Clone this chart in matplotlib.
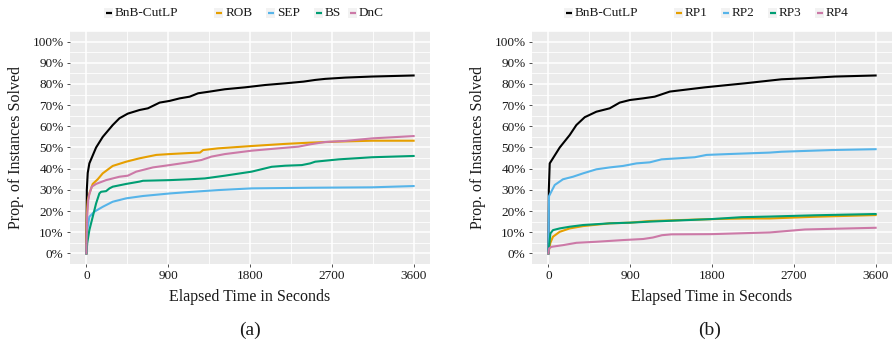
import matplotlib
matplotlib.use("Agg")
import matplotlib.pyplot as plt
from matplotlib.lines import Line2D
from matplotlib.patches import Rectangle
from matplotlib.ticker import FixedLocator, MultipleLocator

plt.rcParams['font.family'] = ['Liberation Serif', 'DejaVu Serif']

# ---- data: elapsed seconds vs. percentage of instances solved ----
# panel (a)
t_bnb_a = [0, 5, 15, 33, 107, 180, 290, 364, 456, 585, 677, 806, 916, 1027, 1137,
           1229, 1358, 1524, 1745, 1966, 2186, 2388, 2517, 2627, 2848, 3142, 3600]
p_bnb_a = [0, 30, 38, 42.5, 50, 55, 60.6, 63.8, 66, 67.7, 68.5, 71.2, 72, 73.2, 74,
           75.6, 76.4, 77.5, 78.4, 79.5, 80.3, 81.1, 81.9, 82.4, 83, 83.5, 84.0]

t_rob = [0, 5, 15, 33, 70, 125, 180, 290, 438, 585, 769, 916, 1137, 1250, 1284,
         1450, 1818, 2186, 2462, 2775, 3142, 3600]
p_rob = [0, 18, 25, 28.3, 32.8, 35, 37.8, 41.3, 43.3, 44.9, 46.5, 46.9, 47.4, 47.6, 48.8,
         49.6, 50.7, 51.7, 52.3, 52.8, 53.2, 53.2]

t_sep = [0, 10, 33, 88, 180, 290, 438, 622, 916, 1137, 1450, 1818, 2462, 3142, 3600]
p_sep = [0, 11, 17.3, 19.7, 22, 24.4, 26, 27.1, 28.3, 29, 29.9, 30.7, 31, 31.2, 31.8]

t_bs = [0, 10, 33, 70, 107, 143, 162, 217, 254, 290, 438, 585, 622, 916, 1137, 1303,
        1524, 1818, 2039, 2186, 2370, 2462, 2517, 2775, 3142, 3600]
p_bs = [0, 5, 11, 17.3, 23.6, 28.3, 29.1, 29.4, 30.7, 31.5, 32.8, 33.9, 34.3, 34.6, 35, 35.4,
        36.7, 38.6, 40.9, 41.4, 41.7, 42.5, 43.3, 44.4, 45.4, 46]

t_dnc = [0, 8, 20, 33, 60, 107, 217, 364, 456, 548, 732, 916, 1137, 1266, 1376, 1524,
         1818, 2112, 2333, 2462, 2627, 2848, 3142, 3600]
p_dnc = [0, 17, 25, 28, 31.5, 32.8, 34.6, 36.2, 36.7, 38.6, 40.6, 41.7, 43.1, 44.1, 45.7, 46.9,
         48.5, 49.6, 50.4, 51.5, 52.6, 53.1, 54.3, 55.4]

# panel (b)
t_bnb_b = [0, 5, 15, 125, 235, 308, 400, 528, 675, 785, 895, 1042, 1170, 1336, 1721,
           2161, 2437, 2565, 2822, 3152, 3600]
p_bnb_b = [0, 30, 42.5, 50, 55.9, 60.6, 64.3, 66.9, 68.5, 71.2, 72.4, 73.2, 74, 76.4, 78.4,
           80.3, 81.6, 82.2, 82.7, 83.5, 84.0]

t_rp1 = [0, 22, 51, 125, 235, 382, 675, 895, 1116, 1794, 2161, 2437, 2932, 3600]
p_rp1 = [0, 5, 7.9, 10.2, 11.8, 12.9, 14.2, 14.5, 15.3, 16.2, 16.5, 16.5, 17.3, 18.1]

t_rp2 = [0, 7, 22, 70, 161, 271, 382, 528, 675, 822, 969, 1116, 1244, 1611, 1740,
         1978, 2437, 2565, 3116, 3600]
p_rp2 = [0, 27, 28.3, 32.3, 35, 36.2, 37.8, 39.7, 40.6, 41.3, 42.5, 43, 44.4, 45.4, 46.5,
         46.9, 47.6, 48, 48.8, 49.2]

t_rp3 = [0, 22, 51, 125, 235, 382, 675, 895, 1116, 1794, 2124, 2437, 2932, 3600]
p_rp3 = [0, 9.4, 11, 11.8, 12.6, 13.4, 14.2, 14.5, 15, 16.2, 17.1, 17.4, 18, 18.6]

t_rp4 = [0, 8, 33, 161, 308, 528, 822, 1042, 1150, 1250, 1354, 1794, 2437, 2822, 3600]
p_rp4 = [0, 2.4, 3.1, 3.9, 5, 5.5, 6.3, 6.8, 7.5, 8.6, 9, 9.1, 9.9, 11.3, 12.1]

labels_a = ["BnB-CutLP", "ROB", "SEP", "BS", "DnC"]
labels_b = ["BnB-CutLP", "RP1", "RP2", "RP3", "RP4"]
colors = ["#000000", "#E69F00", "#56B4E9", "#009E73", "#CC79A7"]

x_ticks = [0, 900, 1800, 2700, 3600]
y_ticks = list(range(0, 101, 10))

series_a = [(t_bnb_a, p_bnb_a), (t_rob, p_rob), (t_sep, p_sep), (t_bs, p_bs), (t_dnc, p_dnc)]
series_b = [(t_bnb_b, p_bnb_b), (t_rp1, p_rp1), (t_rp2, p_rp2), (t_rp3, p_rp3), (t_rp4, p_rp4)]

W, H = 893, 346
fig = plt.figure(figsize=(W / 100, H / 100), dpi=100)

TXT = "#1a1a1a"


def style_axes(ax):
    ax.set_facecolor("#EBEBEB")
    for s in ax.spines.values():
        s.set_visible(False)
    ax.set_xlim(-180, 3780)
    ax.set_ylim(-5, 105)
    ax.xaxis.set_major_locator(FixedLocator(x_ticks))
    ax.xaxis.set_minor_locator(FixedLocator([450, 1350, 2250, 3150]))
    ax.yaxis.set_major_locator(FixedLocator(y_ticks))
    ax.yaxis.set_minor_locator(MultipleLocator(5))
    ax.set_xticklabels([str(v) for v in x_ticks])
    ax.set_yticklabels([f"{v}%" for v in y_ticks])
    ax.grid(True, which="major", color="white", linewidth=1.1)
    ax.grid(True, which="minor", color="white", linewidth=0.6)
    ax.set_axisbelow(True)
    ax.tick_params(which="major", length=2.5, width=0.6, color="#333333",
                   labelsize=9.5, labelcolor=TXT, pad=2)
    ax.tick_params(which="minor", length=0)
    ax.set_xlabel("Elapsed Time in Seconds", fontsize=11.5, color=TXT, labelpad=5)
    ax.set_ylabel("Prop. of Instances Solved", fontsize=11.5, color=TXT, labelpad=6)


def draw_legend(labels, key_x, text_x, y_px=13):
    for lab, col, kx, tx in zip(labels, colors, key_x, text_x):
        kw, kh = 9, 10
        fig.patches.append(Rectangle(((kx) / W, 1 - (y_px + kh / 2) / H), kw / W, kh / H,
                                     transform=fig.transFigure, facecolor="#F2F2F2",
                                     edgecolor="none"))
        fig.lines.append(Line2D([(kx + 1.5) / W, (kx + kw - 1.5) / W],
                                [1 - y_px / H, 1 - y_px / H], transform=fig.transFigure,
                                color=col, linewidth=1.6, solid_capstyle="butt"))
        fig.text(tx / W, 1 - y_px / H, lab, fontsize=9.5, color=TXT,
                 ha="left", va="center")


ax_a = fig.add_axes([70 / W, 1 - 264 / H, 360 / W, 233 / H])
ax_b = fig.add_axes([532 / W, 1 - 264 / H, 360 / W, 233 / H])

for ax, series, labs in ((ax_a, series_a, labels_a), (ax_b, series_b, labels_b)):
    style_axes(ax)
    for (t, p), col, lab in zip(series, colors, labs):
        ax.plot(t, p, color=col, linewidth=1.5, label=lab, solid_joinstyle="round")

draw_legend(labels_a, [104, 214, 266, 314, 348], [115, 226, 277, 325, 359])
draw_legend(labels_b, [564, 674, 721, 768, 815], [575, 685, 732, 779, 826])

fig.text(250 / W, 1 - 330 / H, "(a)", fontsize=14, color=TXT, ha="center", va="center")
fig.text(710 / W, 1 - 330 / H, "(b)", fontsize=14, color=TXT, ha="center", va="center")

fig.savefig("out.png", dpi=100, facecolor="white")
